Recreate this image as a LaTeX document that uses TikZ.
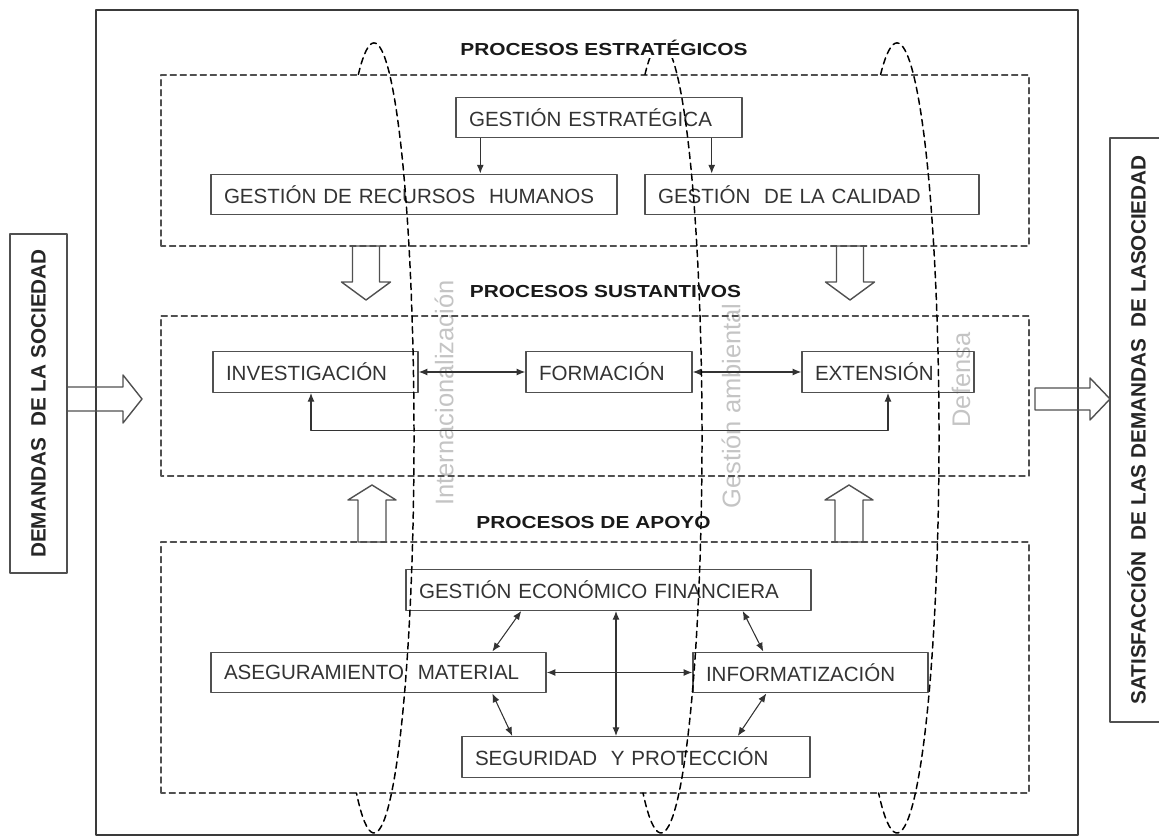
\documentclass[tikz,border=0pt]{standalone}
\usepackage{fontspec}
\setmainfont{Liberation Sans}
\newfontfamily\titlefont{Liberation Sans}[FakeStretch=1.2]
\usetikzlibrary{arrows.meta}
\definecolor{ink}{HTML}{333333}
\definecolor{edge}{HTML}{505050}
\definecolor{frameclr}{HTML}{3A3A3A}
\definecolor{zonegray}{HTML}{C4C4C4}

\begin{document}
\begin{tikzpicture}[line cap=round, line join=round,
    box/.style={draw=edge, line width=0.8pt, text=ink, inner xsep=0.26cm,
      minimum height=0.81cm, align=left,
      font=\fontsize{11.7}{14}\selectfont},
    sidebox/.style={draw=edge, line width=1pt, text=black!85,
      font=\bfseries\fontsize{11.8}{14}\selectfont},
    title/.style={inner sep=1.5pt, text=black!90,
      font=\titlefont\bfseries\fontsize{9.9}{12}\selectfont},
    zone/.style={text=zonegray, inner sep=0pt, font=\fontsize{14.5}{17}\selectfont},
    group/.style={draw=edge, line width=0.8pt, dash pattern=on 3.4pt off 2.3pt},
    ring/.style={draw=black, line width=0.85pt, dash pattern=on 3.6pt off 2.6pt},
    hollow/.style={draw=edge, line width=0.8pt},
    arr/.style={draw=ink, line width=0.6pt, -{Latex[length=5pt,width=4pt]}},
    arrboth/.style={draw=ink, line width=0.6pt,
      {Latex[length=5pt,width=4pt]}-{Latex[length=5pt,width=4pt]}}]
  \useasboundingbox (0,0) rectangle (23.18,16.74);

  % ejes transversales
  \node[zone, rotate=90] (intl) at (8.88,8.88) {Internacionalización};
  \node[zone, rotate=90] (amb) at (14.62,8.62) {Gestión ambiental};
  \node[zone, rotate=90] (def) at (19.22,9.14) {Defensa};

  % marco y grupos
  \draw[frameclr, line width=1.4pt] (1.92,0.04) rectangle (21.56,16.54);
  \draw[group] (3.22,11.82) rectangle (20.58,15.24);
  \draw[group] (3.22,7.22) rectangle (20.58,10.42);
  \draw[group] (3.22,0.88) rectangle (20.58,5.90);

  % procesos estrategicos
  \node[box, text width=5.20cm] (ge) at (11.98,14.39) {GESTIÓN ESTRATÉGICA};
  \node[box, text width=7.60cm] (grh) at (8.28,12.85) {GESTIÓN DE RECURSOS~ HUMANOS};
  \node[box, text width=6.16cm] (gc) at (16.24,12.85) {GESTIÓN~ DE LA CALIDAD};
  \draw[arr] ([xshift=0.5cm]ge.south west) coordinate (g1) -- (g1 |- grh.north);
  \draw[arr] ([xshift=-0.62cm]ge.south east) coordinate (g2) -- (g2 |- gc.north);

  % procesos sustantivos
  \node[box, text width=3.58cm] (inv) at (6.31,9.30) {INVESTIGACIÓN};
  \node[box, text width=2.80cm] (for) at (12.18,9.30) {FORMACIÓN};
  \node[box, text width=2.92cm] (ext) at (17.76,9.30) {EXTENSIÓN};
  \draw[arrboth] (inv) -- (for);
  \draw[arrboth] (for) -- (ext);
  \draw[arrboth] ([xshift=-0.09cm]inv.south) -- ++(0,-0.76) -| (ext.south);

  % procesos de apoyo
  \node[box, text width=7.58cm] (gef) at (12.17,4.94) {GESTIÓN ECONÓMICO FINANCIERA};
  \node[box, text width=6.18cm] (am) at (7.57,3.29) {ASEGURAMIENTO~ MATERIAL};
  \node[box, text width=4.18cm] (inf) at (16.21,3.29) {INFORMATIZACIÓN};
  \node[box, text width=6.44cm] (sp) at (12.72,1.60) {SEGURIDAD~ Y PROTECCIÓN};
  \draw[arrboth] ([xshift=2.32cm]gef.south west) -- ([xshift=5.64cm]am.north west);
  \draw[arrboth] ([xshift=-1.38cm]gef.south east) -- ([xshift=1.42cm]inf.north west);
  \draw[arrboth] ([xshift=5.64cm]am.south west) -- ([xshift=1.02cm]sp.north west);
  \draw[arrboth] ([xshift=1.48cm]inf.south west) -- ([xshift=-1.46cm]sp.north east);
  \draw[arrboth] (am) -- (inf);
  \draw[arrboth] ([xshift=0.15cm]gef.south) coordinate (g3) -- (g3 |- sp.north);

  % flechas huecas
  \draw[hollow] (7.05,11.82) -- (7.05,11.10) -- (6.83,11.10) -- (7.32,10.74)
    -- (7.81,11.10) -- (7.59,11.10) -- (7.59,11.82) -- cycle;
  \draw[hollow] (16.73,11.82) -- (16.73,11.10) -- (16.51,11.10) -- (17.00,10.74)
    -- (17.49,11.10) -- (17.27,11.10) -- (17.27,11.82) -- cycle;
  \draw[hollow] (7.16,5.90) -- (7.16,6.74) -- (6.96,6.74) -- (7.44,7.04)
    -- (7.92,6.74) -- (7.72,6.74) -- (7.72,5.90) -- cycle;
  \draw[hollow] (16.70,5.90) -- (16.70,6.74) -- (16.50,6.74) -- (16.98,7.04)
    -- (17.46,6.74) -- (17.26,6.74) -- (17.26,5.90) -- cycle;

  % entrada y salida
  \node[sidebox, rotate=90, minimum width=6.78cm, minimum height=1.14cm] (dem)
    at (0.77,8.67) {DEMANDAS~ DE LA SOCIEDAD};
  \node[sidebox, rotate=90, minimum width=11.68cm, minimum height=1.06cm] (sat)
    at (22.73,8.14) {SATISFACCIÓN~ DE LAS DEMANDAS~ DE LASOCIEDAD};
  \draw[hollow] (1.34,8.52) -- (2.46,8.52) -- (2.46,8.28) -- (2.84,8.76)
    -- (2.46,9.24) -- (2.46,9.00) -- (1.34,9.00) -- cycle;
  \draw[hollow] (20.70,8.54) -- (21.80,8.54) -- (21.80,8.34) -- (22.20,8.76)
    -- (21.80,9.18) -- (21.80,8.98) -- (20.70,8.98) -- cycle;

  % ejes (elipses)
  \coordinate (e1) at (7.48,7.98);
  \coordinate (e2) at (13.22,7.98);
  \coordinate (e3) at (17.94,7.98);
  \draw[ring] ([shift={(113:0.80 and 7.90)}]e1) arc[start angle=113, end angle=-116, x radius=0.80, y radius=7.90];
  \draw[ring] ([shift={(113:0.82 and 7.90)}]e2) arc[start angle=113, end angle=-116, x radius=0.82, y radius=7.90];
  \draw[ring] ([shift={(113:0.84 and 7.90)}]e3) arc[start angle=113, end angle=-116, x radius=0.84, y radius=7.90];

  % titulos
  \node[title, fill=white] (tes) at (12.08,15.78) {PROCESOS ESTRATÉGICOS};
  \node[title] (tsu) at (12.11,10.90) {PROCESOS SUSTANTIVOS};
  \node[title] (tap) at (11.87,6.28) {PROCESOS DE APOYO};
\end{tikzpicture}
\end{document}
